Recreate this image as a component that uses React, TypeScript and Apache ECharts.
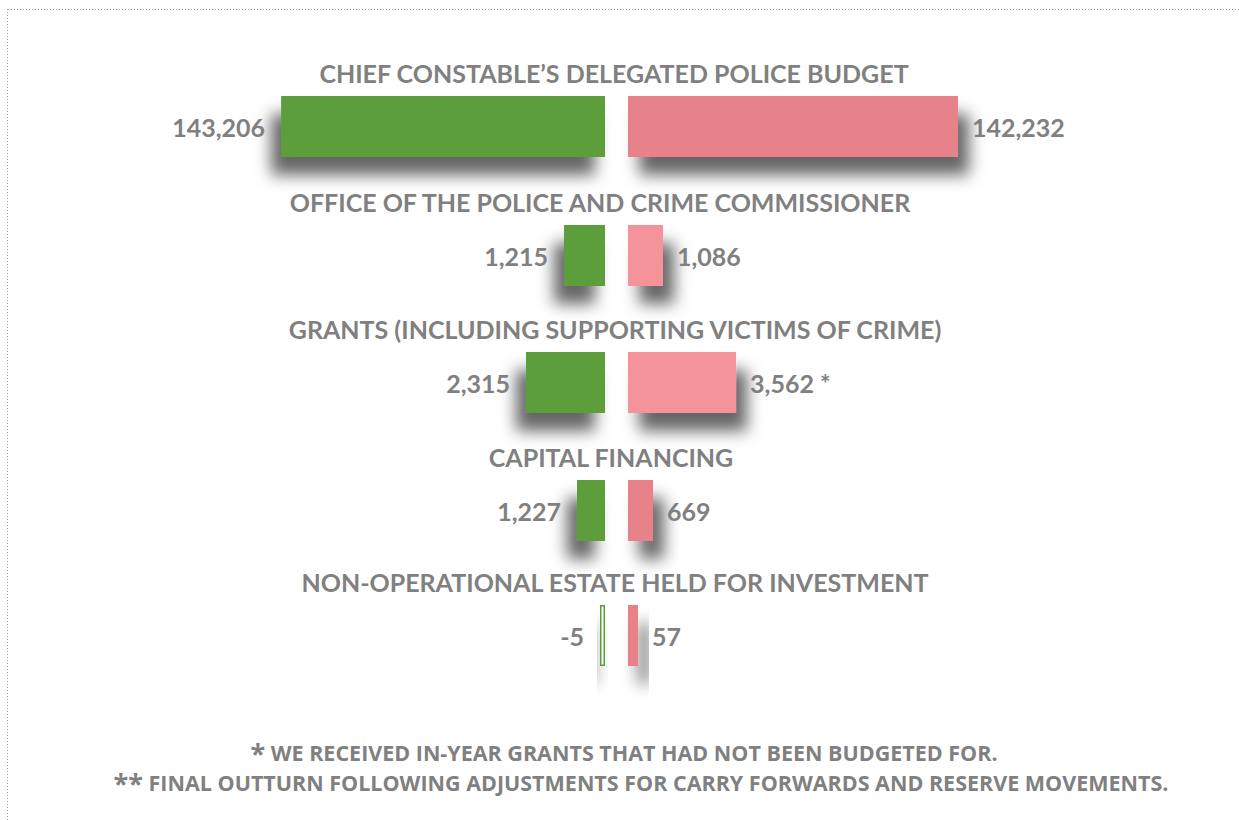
import React, { useEffect, useRef } from "react";
import * as echarts from "echarts";

// ---- data ----
const categories = [
  "CHIEF CONSTABLE\u2019S DELEGATED POLICE BUDGET",
  "OFFICE OF THE POLICE AND CRIME COMMISSIONER",
  "GRANTS (INCLUDING SUPPORTING VICTIMS OF CRIME)",
  "CAPITAL FINANCING",
  "NON-OPERATIONAL ESTATE HELD FOR INVESTMENT",
];
const budget = [143206, 1215, 2315, 1227, -5];
const outturn = [142232, 1086, 3562, 669, 57];
const outturnNotes = ["", "", " *", "", ""];
const footnoteMarks = ["*", "**"];
const footnotes = [
  " WE RECEIVED IN-YEAR GRANTS THAT HAD NOT BEEN BUDGETED FOR.",
  " FINAL OUTTURN FOLLOWING ADJUSTMENTS FOR CARRY FORWARDS AND RESERVE MOVEMENTS.",
];

// ---- layout / style (not data) ----
const rowBarTop = [96, 225, 352, 480, 605];
const titleX = [614, 600, 615, 611, 615];
const leftAxisMax = [145900, 9780, 9670, 14460, 330];
const rightAxisMax = [140500, 10240, 10880, 8830, 1880];
const redShade = ["#E8828A", "#F4939A", "#F4939A", "#E8828A", "#E8828A"];
const GREEN = "#5B9E3A";
const GRAY = "#808080";
const BAR_H = 61;
const SIDE_W = 330;
const LEFT_EDGE = 605;
const RIGHT_EDGE = 628;
const FONT = "Lato";

const fmt = (v: number) => v.toLocaleString("en-US");

export default function App() {
  const ref = useRef<HTMLDivElement>(null);
  useEffect(() => {
    if (!ref.current) return;
    const chart = echarts.init(ref.current, null, { renderer: "svg" });
    const grid: any[] = [];
    const xAxis: any[] = [];
    const yAxis: any[] = [];
    const series: any[] = [];
    const labelStyle = {
      show: true,
      fontFamily: FONT,
      fontWeight: "bold",
      fontSize: 25,
      color: GRAY,
    };
    const shadow = {
      shadowBlur: 16,
      shadowColor: "rgba(0,0,0,0.6)",
      shadowOffsetY: 18,
    };
    categories.forEach((cat, i) => {
      const top = rowBarTop[i];
      // left (budget)
      grid.push({ left: LEFT_EDGE - SIDE_W, width: SIDE_W, top, height: BAR_H });
      xAxis.push({
        type: "value", gridIndex: grid.length - 1, min: 0, max: leftAxisMax[i],
        inverse: true, show: false,
      });
      yAxis.push({ type: "category", gridIndex: grid.length - 1, data: [cat], show: false });
      const b = budget[i];
      series.push({
        type: "bar",
        name: "Budget",
        xAxisIndex: grid.length - 1,
        yAxisIndex: grid.length - 1,
        barWidth: BAR_H,
        data: [
          {
            value: Math.abs(b),
            itemStyle:
              b < 0
                ? { color: "#ffffff", borderColor: GREEN, borderWidth: 1.5 }
                : { color: GREEN },
          },
        ],
        itemStyle: { ...shadow, shadowOffsetX: -10 },
        label: { ...labelStyle, position: "left", distance: 16, formatter: () => fmt(b) },
      });
      // right (outturn)
      grid.push({ left: RIGHT_EDGE, width: SIDE_W, top, height: BAR_H });
      xAxis.push({
        type: "value", gridIndex: grid.length - 1, min: 0, max: rightAxisMax[i], show: false,
      });
      yAxis.push({ type: "category", gridIndex: grid.length - 1, data: [cat], show: false });
      const o = outturn[i];
      series.push({
        type: "bar",
        name: "Outturn",
        xAxisIndex: grid.length - 1,
        yAxisIndex: grid.length - 1,
        barWidth: BAR_H,
        data: [{ value: o, itemStyle: { color: redShade[i] } }],
        itemStyle: { ...shadow, shadowOffsetX: 11 },
        label: {
          ...labelStyle,
          position: "right",
          distance: 14,
          formatter: () => fmt(o) + outturnNotes[i],
        },
      });
    });

    const graphic: any[] = [
      {
        type: "line",
        shape: { x1: 8, y1: 9.5, x2: 1239, y2: 9.5 },
        style: { stroke: "#999", lineWidth: 1, lineDash: [1, 2] },
        silent: true,
      },
      {
        type: "line",
        shape: { x1: 7.5, y1: 9, x2: 7.5, y2: 820 },
        style: { stroke: "#999", lineWidth: 1, lineDash: [1, 2] },
        silent: true,
      },
    ];
    categories.forEach((cat, i) => {
      graphic.push({
        type: "text",
        x: titleX[i],
        y: rowBarTop[i] - 23,
        style: {
          text: cat,
          fontFamily: FONT,
          fontWeight: "bold",
          fontSize: 25,
          fill: GRAY,
          align: "center",
          verticalAlign: "middle",
        },
      });
    });
    const footX = [624, 641];
    const footY = [752, 782];
    footnotes.forEach((t, i) => {
      graphic.push({
        type: "text",
        x: footX[i],
        y: footY[i],
        style: {
          text: "{m|" + footnoteMarks[i] + "}{t|" + t + "}",
          align: "center",
          verticalAlign: "middle",
          fill: GRAY,
          rich: {
            m: { fontFamily: "Open Sans", fontWeight: "bold", fontSize: 27, fill: GRAY, verticalAlign: "top" },
            t: { fontFamily: "Open Sans", fontWeight: "bold", fontSize: 21.5, fill: GRAY },
          },
        },
      });
    });

    chart.setOption({
      animation: false,
      backgroundColor: "#ffffff",
      grid,
      xAxis,
      yAxis,
      series,
      graphic,
    });
    return () => chart.dispose();
  }, []);
  return (
    <div
      ref={ref}
      style={{ position: "absolute", left: 0, top: 0, width: 1239, height: 820 }}
    />
  );
}
